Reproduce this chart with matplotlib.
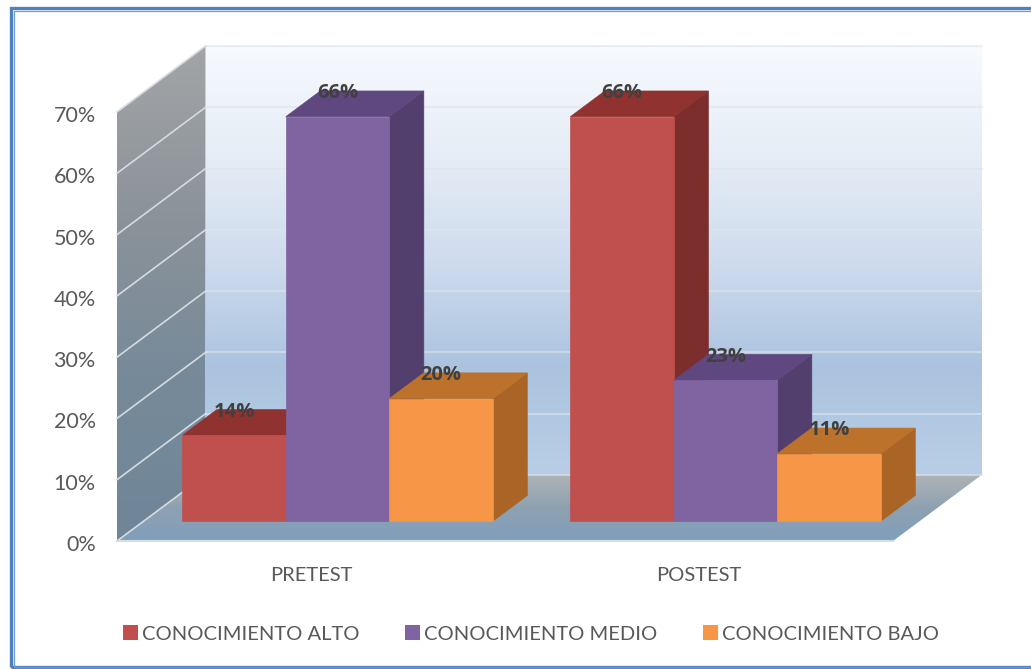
import numpy as np
import matplotlib
matplotlib.use('Agg')
import matplotlib.pyplot as plt
from matplotlib.colors import LinearSegmentedColormap
from matplotlib.patches import Polygon, Rectangle
from matplotlib.transforms import ScaledTranslation

categories = ['PRETEST', 'POSTEST']
series_names = ['CONOCIMIENTO ALTO', 'CONOCIMIENTO MEDIO', 'CONOCIMIENTO BAJO']
alto = [14, 66]
medio = [66, 23]
bajo = [20, 11]
y_ticks = [0, 10, 20, 30, 40, 50, 60, 70]
y_tick_labels = ['0%', '10%', '20%', '30%', '40%', '50%', '60%', '70%']

# front, top, side
RED = ('#c0504d', '#90322f', '#7c2e2c')
PURPLE = ('#8064a2', '#5f4880', '#533f6e')
ORANGE = ('#f79646', '#bd722c', '#a96426')
TEXT = '#595959'

W, H = 1031, 669
# one unit of depth on the chart, in data units (88.5 px right, 66 px up)
DX = 88.5 / 388
DY = 66 / 6.13
BAR_D0, BAR_D1 = 0.30, 0.69
GAP = 0.1
BAR_W = (1 - 2 * GAP) / 3

plt.rcParams['font.family'] = ['Lato', 'DejaVu Sans']


def proj(x, y, d):
    return (x + d * DX, y + d * DY)


def gradient_fill(ax, fig, pts, colors, zorder=1):
    pts = np.array(pts)
    cmap = LinearSegmentedColormap.from_list('g', colors)
    grad = np.linspace(0, 1, 256).reshape(-1, 1)
    ext = [pts[:, 0].min(), pts[:, 0].max(), pts[:, 1].min(), pts[:, 1].max()]
    im = ax.imshow(grad, cmap=cmap, extent=ext, origin='upper', aspect='auto',
                   zorder=zorder, interpolation='bilinear')
    clip = Polygon(pts, closed=True, transform=ax.transData, fc='none', ec='none')
    im.set_clip_box(fig.bbox)
    im.set_clip_path(clip)


def draw_bar(ax, x, w, v, cols, zorder):
    front = [proj(x, 0, BAR_D0), proj(x + w, 0, BAR_D0),
             proj(x + w, v, BAR_D0), proj(x, v, BAR_D0)]
    top = [proj(x, v, BAR_D0), proj(x + w, v, BAR_D0),
           proj(x + w, v, BAR_D1), proj(x, v, BAR_D1)]
    side = [proj(x + w, 0, BAR_D0), proj(x + w, 0, BAR_D1),
            proj(x + w, v, BAR_D1), proj(x + w, v, BAR_D0)]
    for pts, c in zip((side, top, front), (cols[2], cols[1], cols[0])):
        ax.add_patch(Polygon(pts, closed=True, fc=c, ec=c, lw=0.5,
                             zorder=zorder, clip_on=False))


fig = plt.figure(figsize=(W / 100, H / 100), dpi=100)
ax = fig.add_axes([117 / W, 1 - 541 / H, 776 / W, 429 / H])
ax.patch.set_visible(False)

n = len(categories)
top_val = y_ticks[-1]

# walls and floor
gradient_fill(ax, fig, [proj(0, 0, 1), proj(n, 0, 1), proj(n, top_val, 1), proj(0, top_val, 1)],
              ['#f7faff', '#e6edf6', '#cfdcee', '#abc3df', '#b9cee6'])
gradient_fill(ax, fig, [proj(0, 0, 0), proj(0, top_val, 0), proj(0, top_val, 1), proj(0, 0, 1)],
              ['#a3a5a7', '#8c939a', '#778a99', '#6f8698'])
gradient_fill(ax, fig, [proj(0, 0, 0), proj(n, 0, 0), proj(n, 0, 1), proj(0, 0, 1)],
              ['#aeb3b6', '#8ea1b1', '#7f9fbc'])

# gridlines, across the side wall then along the back wall
for t in y_ticks:
    xs, ys = zip(proj(0, t, 0), proj(0, t, 1))
    ax.plot(xs, ys, color='#d5dbe1', lw=1.2, zorder=2, clip_on=False)
    xs, ys = zip(proj(0, t, 1), proj(n, t, 1))
    ax.plot(xs, ys, color='#dde4ec', lw=1.2, alpha=0.75, zorder=2, clip_on=False)
ax.plot([0, n], [0, 0], color='#d5dce3', lw=1.5, zorder=2, clip_on=False)

# bars
for i in range(n):
    for j, (vals, cols) in enumerate(zip((alto, medio, bajo), (RED, PURPLE, ORANGE))):
        x = i + GAP + j * BAR_W
        draw_bar(ax, x, BAR_W, vals[i], cols, 3 + j)
for i in range(n):
    for j, vals in enumerate((alto, medio, bajo)):
        x = i + GAP + (j + 0.5) * BAR_W
        lx = proj(x, vals[i], BAR_D0)[0]
        ly = proj(x, vals[i], BAR_D1)[1]
        ax.annotate('%d%%' % vals[i], (lx, ly), xytext=(0, -1.5), textcoords='offset points',
                    ha='center', va='center', fontsize=14.5, family='Open Sans',
                    fontweight='bold', color='#404040', zorder=10, annotation_clip=False)

ax.set_xlim(0, n)
ax.set_ylim(0, top_val)
ax.set_xticks(np.arange(n) + 0.5)
ax.set_xticklabels(categories, fontsize=14.5, color=TEXT)
ax.set_yticks(y_ticks)
ax.set_yticklabels(y_tick_labels, fontsize=15.5, color=TEXT)
ax.tick_params(axis='x', length=0, pad=19)
ax.tick_params(axis='y', length=0, pad=15.3)
for label in ax.get_yticklabels():
    label.set_transform(label.get_transform() + ScaledTranslation(0, -2 / 100, fig.dpi_scale_trans))
for s in ax.spines.values():
    s.set_visible(False)

handles = [Rectangle((0, 0), 1, 1, fc=c[0]) for c in (RED, PURPLE, ORANGE)]
fig.legend(handles, series_names, ncol=3, loc='center', bbox_to_anchor=(531 / W, 1 - 634 / H),
           frameon=False, fontsize=14.5, labelcolor=TEXT, handlelength=0.72, handleheight=0.72,
           handletextpad=0.2, columnspacing=2.3)

# double frame round the chart, right side runs off the picture
fig.add_artist(Rectangle((10.5 / W, 1 - 667 / H), 1040 / W, 659 / H, transform=fig.transFigure,
                         fc='none', ec='#4f81bd', lw=2.4))
fig.add_artist(Rectangle((13.5 / W, 1 - 667 / H), 1040 / W, 656 / H, transform=fig.transFigure,
                         fc='none', ec='#6f9bd0', lw=0.9))

fig.savefig('out.png', dpi=100)
